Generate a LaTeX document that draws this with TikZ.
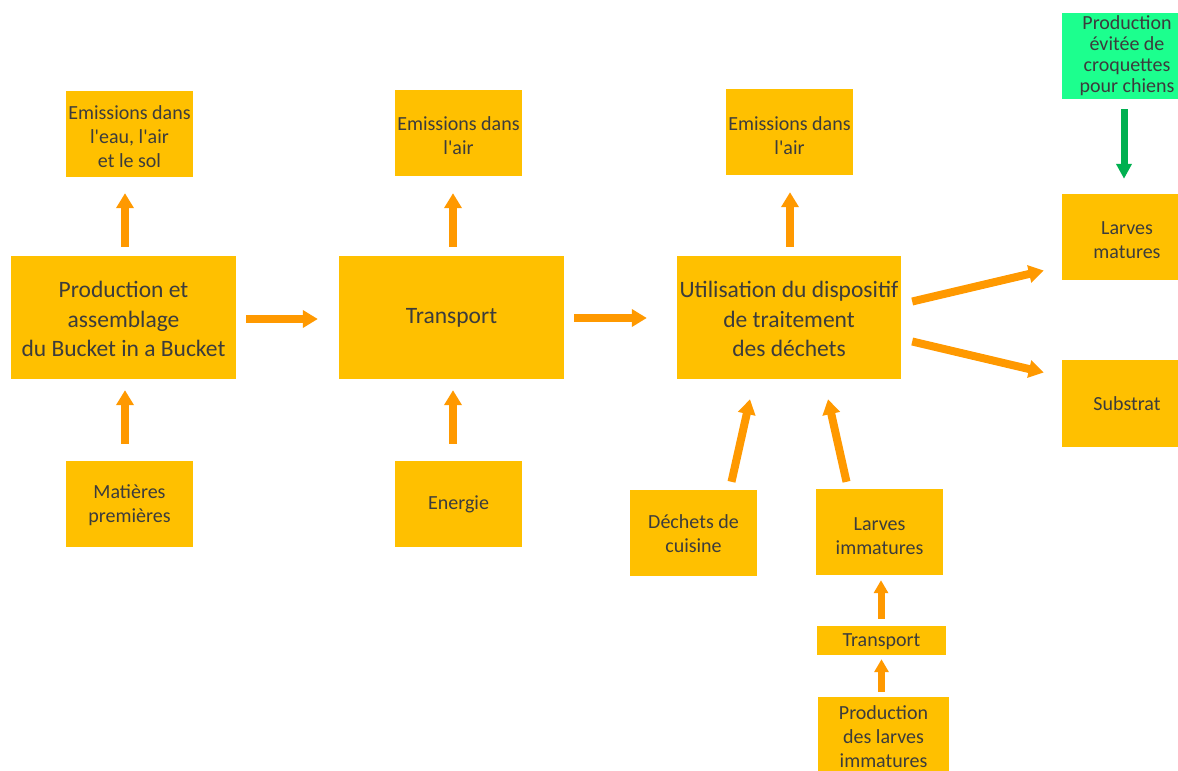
\documentclass[tikz,border=0pt]{standalone}
\usepackage{fontspec}
\setmainfont{Carlito}[Ligatures=TeXOff]
\usetikzlibrary{arrows.meta,calc}
\definecolor{boxfill}{HTML}{FFC000}
\definecolor{arrorange}{HTML}{FF9900}
\definecolor{mint}{HTML}{1CFF8E}
\definecolor{arrgreen}{HTML}{00B050}
\definecolor{txt}{HTML}{3C3C3C}
\begin{document}
\begin{tikzpicture}[x=1pt,y=-1pt,
  box/.style={fill=boxfill, draw=none, inner sep=0pt, minimum width=127pt, minimum height=86pt},
  bigbox/.style={box, minimum width=225pt, minimum height=123pt},
  greenbox/.style={box, fill=mint},
  lbl/.style={align=center, text=txt, inner sep=0pt, font=\fontsize{20}{24}\selectfont},
  biglbl/.style={lbl, font=\fontsize{23.5}{29.5}\selectfont},
  arr/.style={draw=arrorange, line width=8pt, -{Triangle[width=17pt,length=15pt]}},
  smallarr/.style={draw=arrorange, line width=7pt, -{Triangle[width=14pt,length=13pt]}},
  garr/.style={draw=arrgreen, line width=7pt, -{Triangle[width=15pt,length=15pt]}}
]
\clip (0,0) rectangle (1178,771);
\fill[white] (0,0) rectangle (1178,771);

\node[box, label={[lbl,yshift=-3pt]center:{Emissions dans\\l'eau, l'air\\et le sol}}] (E1) at (129.5,134) {};
\node[bigbox, label={[biglbl,yshift=-1.5pt]center:{Production et\\assemblage\\du Bucket in a Bucket}}] (P1) at (123.5,317.5) {};
\node[box, label={[lbl,yshift=-1pt]center:{Matières\\premières}}] (M) at (129.5,504) {};

\node[box, label={[lbl,yshift=-3pt]center:{Emissions dans\\l'air}}] (E2) at (458.5,133) {};
\node[bigbox, label={[biglbl]center:{Transport}}] (T) at (451.5,317.5) {};
\node[box, label={[lbl]center:{Energie}}] (En) at (458.5,504) {};

\node[box, label={[lbl,yshift=-4pt]center:{Emissions dans\\l'air}}] (E3) at (789.5,132) {};
\node[bigbox, minimum width=224pt, label={[biglbl,yshift=-1.5pt]center:{Utilisation du dispositif\\de traitement\\des déchets}}] (U) at (789,317.5) {};
\node[box, label={[lbl,yshift=-1pt]center:{Déchets de\\cuisine}}] (D) at (693.5,533) {};
\node[box, label={[lbl,yshift=-4pt]center:{Larves\\immatures}}] (LI) at (879.5,532) {};
\node[box, minimum width=129pt, minimum height=29pt, label={[lbl,yshift=-1pt]center:{Transport}}] (TR) at (881.5,640.5) {};
\node[box, minimum width=131pt, label={[lbl,yshift=3pt]center:{Production\\des larves\\immatures}}] (PL) at (883.5,740) {};

\node[greenbox, minimum width=130pt, label={[lbl,font=\fontsize{20}{21}\selectfont]center:{Production\\évitée de\\croquettes\\pour chiens}}] (G) at (1127,56) {};
\node[box, minimum width=130pt, label={[lbl,yshift=-4pt]center:{Larves\\matures}}] (LM) at (1127,236.5) {};
\node[box, minimum width=130pt, minimum height=87pt, label={[lbl]center:{Substrat}}] (S) at (1127,403.5) {};

\draw[arr] ($(P1.north)+(1.5,-9)$) -- ($(E1.south)+(-4.5,16)$);
\draw[arr] ($(M.north)+(-4.5,-17)$) -- ($(P1.south)+(1.5,11)$);
\draw[arr] ($(P1.east)+(10,1.5)$) -- ($(T.west)+(-21,1.5)$);
\draw[arr] ($(T.north)+(1.5,-9)$) -- ($(E2.south)+(-5.5,17)$);
\draw[arr] ($(En.north)+(-5.5,-17)$) -- ($(T.south)+(1.5,11)$);
\draw[arr] ($(T.east)+(10,0.5)$) -- ($(U.west)+(-30,0.5)$);
\draw[arr] ($(U.north)+(1,-9)$) -- ($(E3.south)+(0.5,17)$);
\draw[arr] ($(U.east)+(11,-16)$) -- ($(LM.west)+(-18,34)$);
\draw[arr] ($(U.east)+(11,24)$) -- ($(S.west)+(-18,-31)$);
\draw[arr] ($(D.north)+(38,-8)$) -- ($(U.south)+(-39,20)$);
\draw[arr] ($(LI.north)+(-33,-7)$) -- ($(U.south)+(39,20)$);
\draw[smallarr] ($(TR.north)+(-0.5,-7)$) -- ($(LI.south)+(1.5,5)$);
\draw[smallarr] ($(PL.north)+(-2,-5)$) -- ($(TR.south)+(0,4)$);
\draw[garr] ($(G.south)+(-3,10)$) -- ($(LM.north)+(-3,-14.5)$);
\end{tikzpicture}
\end{document}
